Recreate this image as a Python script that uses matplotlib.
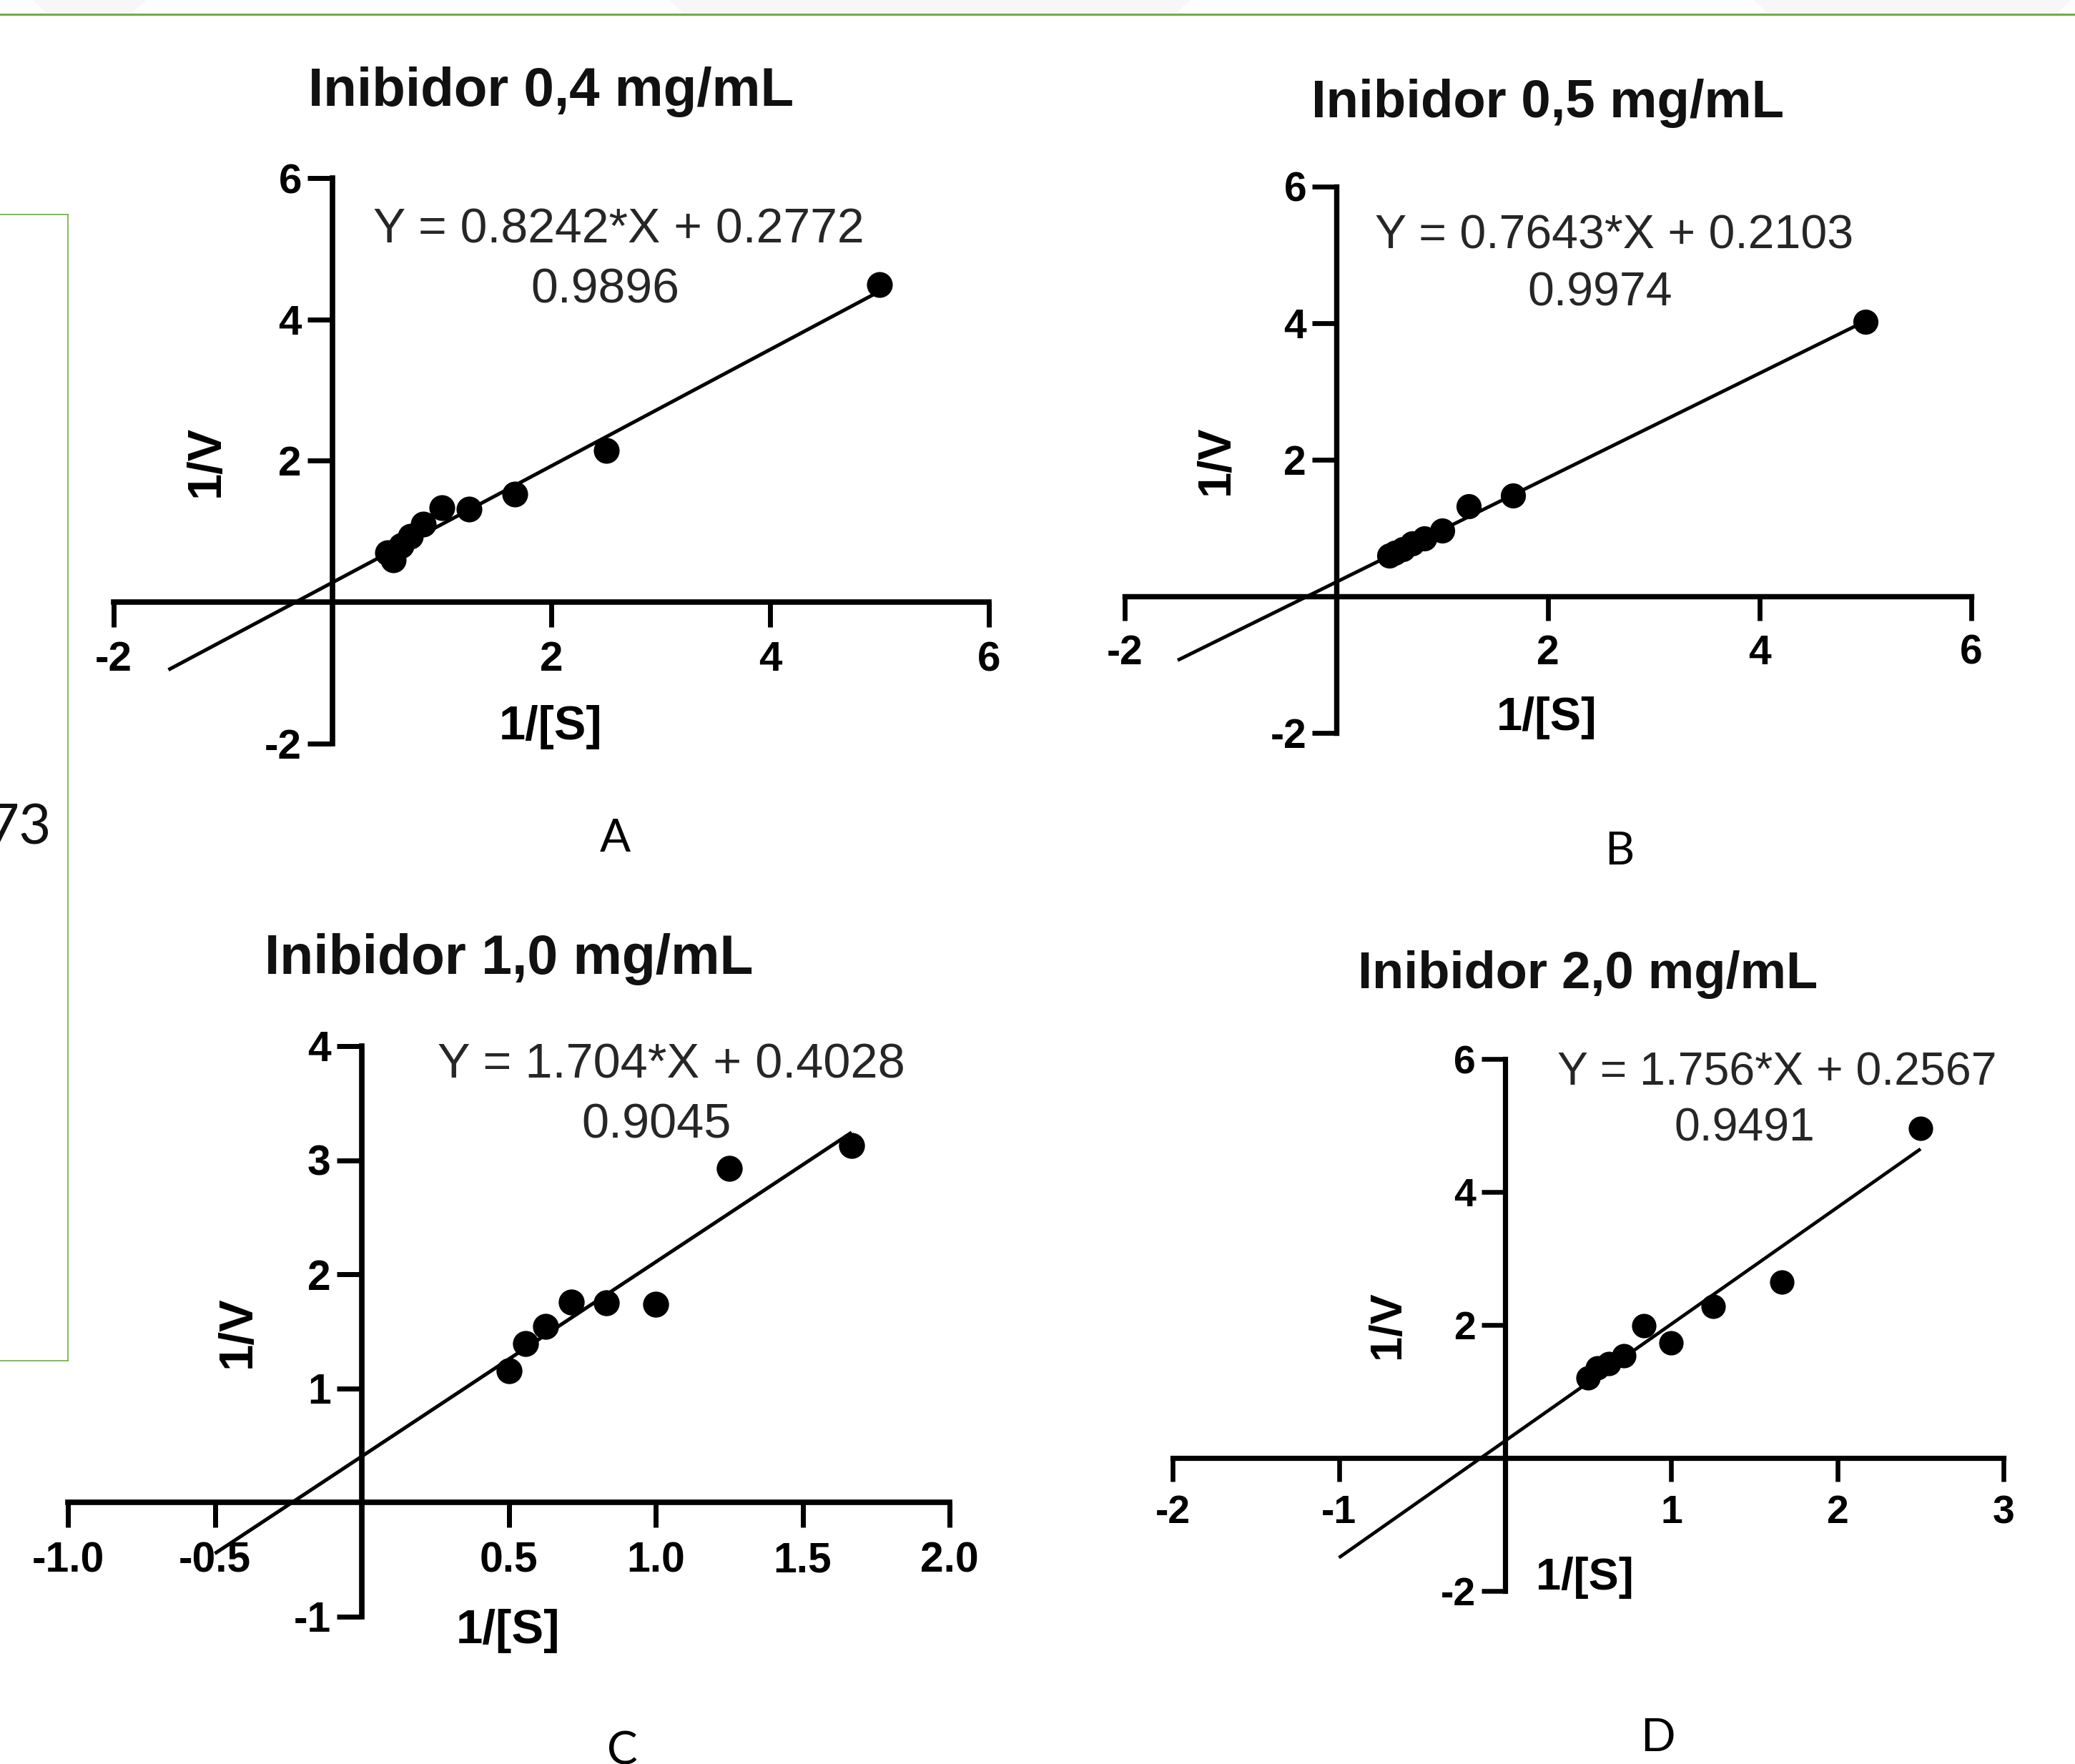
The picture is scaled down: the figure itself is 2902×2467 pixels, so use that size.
import matplotlib
matplotlib.use("Agg")
import matplotlib.pyplot as plt
from matplotlib.patches import Polygon
from matplotlib.lines import Line2D

plt.rcParams['axes.unicode_minus'] = False

W, H = 2902, 2467
DPI = 100

# ---------------- data ----------------
titles = ["Inibidor 0,4 mg/mL", "Inibidor 0,5 mg/mL", "Inibidor 1,0 mg/mL", "Inibidor 2,0 mg/mL"]
letters = ["A", "B", "C", "D"]
equations = ["Y = 0.8242*X + 0.2772", "Y = 0.7643*X + 0.2103",
             "Y = 1.704*X + 0.4028", "Y = 1.756*X + 0.2567"]
r2_labels = ["0.9896", "0.9974", "0.9045", "0.9491"]
slopes = [0.8242, 0.7643, 1.704, 1.756]
intercepts = [0.2772, 0.2103, 0.4028, 0.2567]
fit_ranges = [(-1.5, 5.0), (-1.5, 5.0), (-0.5, 1.667), (-1.0, 2.5)]

a_x = [5.0, 2.5, 1.667, 1.25, 1.0, 0.833, 0.714, 0.625, 0.556, 0.5]
a_y = [4.49, 2.15, 1.53, 1.32, 1.34, 1.10, 0.93, 0.80, 0.60, 0.70]

b_x = [5.0, 1.667, 1.25, 1.0, 0.833, 0.714, 0.625, 0.556, 0.5]
b_y = [4.02, 1.48, 1.32, 0.96, 0.85, 0.77, 0.69, 0.64, 0.60]

c_x = [1.667, 1.25, 1.0, 0.833, 0.714, 0.625, 0.556, 0.5]
c_y = [3.13, 2.93, 1.735, 1.75, 1.755, 1.545, 1.39, 1.155]

d_x = [2.5, 1.667, 1.25, 1.0, 0.833, 0.714, 0.625, 0.556, 0.5]
d_y = [4.96, 2.64, 2.28, 1.73, 1.99, 1.54, 1.42, 1.35, 1.20]

xs = [a_x, b_x, c_x, d_x]
ys = [a_y, b_y, c_y, d_y]

x_limits = [(-2, 6), (-2, 6), (-1, 2), (-2, 3)]
y_limits = [(-2, 6), (-2, 6), (-1, 4), (-2, 6)]
x_ticks = [[-2, 2, 4, 6], [-2, 2, 4, 6], [-1.0, -0.5, 0.5, 1.0, 1.5, 2.0], [-2, -1, 1, 2, 3]]
x_tick_labels = [["-2", "2", "4", "6"], ["-2", "2", "4", "6"],
                 ["-1.0", "-0.5", "0.5", "1.0", "1.5", "2.0"], ["-2", "-1", "1", "2", "3"]]
y_ticks = [[-2, 2, 4, 6], [-2, 2, 4, 6], [-1, 1, 2, 3, 4], [-2, 2, 4, 6]]
y_tick_labels = [["-2", "2", "4", "6"], ["-2", "2", "4", "6"],
                 ["-1", "1", "2", "3", "4"], ["-2", "2", "4", "6"]]

# ---------------- layout (pixels) ----------------
layout = [
    dict(x0=465, ux=153.0, y0=842, uy=98.8, s=1.0,
         title=(771, 148), eq=(865, 340), r2=(846, 423), xl=(770, 1017), yl=(289, 645), let=(860, 1191)),
    dict(x0=1869, ux=148.0, y0=834, uy=95.5, s=0.974,
         title=(2165, 164), eq=(2258, 348), r2=(2238, 428), xl=(2163, 1004), yl=(1700, 643), let=(2265, 1209)),
    dict(x0=506, ux=411.0, y0=2101, uy=159.5, s=1.007,
         title=(712, 1362), eq=(939, 1507), r2=(918, 1592), xl=(710, 2281), yl=(333, 1863), let=(870, 2468)),
    dict(x0=2105, ux=232.4, y0=2039, uy=93.0, s=0.947,
         title=(2221, 1382), eq=(2485, 1517), r2=(2440, 1596), xl=(2216, 2206), yl=(1940, 1853), let=(2318, 2449)),
]

BOLD = dict(family="Liberation Sans", weight="bold")
REG = dict(family="Liberation Sans")

fig = plt.figure(figsize=(W / DPI, H / DPI), dpi=DPI)
fig.patch.set_facecolor("white")


def fx(px):
    return px / W


def fy(py):
    return 1 - py / H


# decorative page elements from the screenshot
green = "#70AD47"
for (xa, xb) in [(45, 205), (935, 1665), (2452, 2897)]:
    fig.patches.append(Polygon([(fx(xa), fy(0)), (fx(xb), fy(0)), (fx(xb - 20), fy(18)), (fx(xa + 20), fy(18))],
                               closed=True, transform=fig.transFigure, facecolor="#f7f7f7",
                               edgecolor="none", zorder=0))
fig.lines.append(Line2D([0, 1], [fy(20), fy(20)], transform=fig.transFigure, color=green, lw=2.2))
fig.lines.append(Line2D([fx(95), fx(95)], [fy(300), fy(1903)], transform=fig.transFigure, color=green, lw=1.2))
fig.lines.append(Line2D([0, fx(95)], [fy(300), fy(300)], transform=fig.transFigure, color=green, lw=1.2))
fig.lines.append(Line2D([0, fx(95)], [fy(1903), fy(1903)], transform=fig.transFigure, color=green, lw=1.2))
fig.text(fx(72), fy(1180), "73", ha="right", va="baseline", fontsize=56, family="Lato", color="#111111")

for i in range(4):
    L = layout[i]
    s = L["s"]
    (xmin, xmax) = x_limits[i]
    (ymin, ymax) = y_limits[i]
    left = L["x0"] + xmin * L["ux"]
    right = L["x0"] + xmax * L["ux"]
    bottom = L["y0"] - ymin * L["uy"]
    top = L["y0"] - ymax * L["uy"]
    ax = fig.add_axes([fx(left), fy(bottom), (right - left) / W, (bottom - top) / H])
    ax.set_xlim(xmin, xmax)
    ax.set_ylim(ymin, ymax)
    ax.patch.set_alpha(0)
    for sp in ("top", "right"):
        ax.spines[sp].set_visible(False)
    ax.spines["left"].set_position(("data", 0))
    ax.spines["bottom"].set_position(("data", 0))
    for sp in ("left", "bottom"):
        ax.spines[sp].set_linewidth(5.5 * s)
        ax.spines[sp].set_color("black")
        ax.spines[sp].set_capstyle("projecting")
    ax.set_xticks(x_ticks[i])
    ax.set_xticklabels(x_tick_labels[i])
    ax.set_yticks(y_ticks[i])
    ax.set_yticklabels(y_tick_labels[i])
    ax.tick_params(axis="x", direction="out", length=25 * s, width=5.0 * s, pad=14 * s,
                   labelsize=42 * s, colors="black")
    ax.tick_params(axis="y", direction="out", length=25 * s, width=5.0 * s, pad=6 * s,
                   labelsize=42 * s, colors="black")
    for lab in ax.get_xticklabels() + ax.get_yticklabels():
        lab.set_fontfamily("Liberation Sans")
        lab.set_fontweight("bold")

    x0f, x1f = fit_ranges[i]
    ax.plot([x0f, x1f], [slopes[i] * x0f + intercepts[i], slopes[i] * x1f + intercepts[i]],
            color="black", lw=3.6 * s, solid_capstyle="butt", clip_on=False, zorder=3)
    ax.plot(xs[i], ys[i], "o", color="black", markersize=26 * s, markeredgewidth=0,
            clip_on=False, zorder=4)

    fig.text(fx(L["title"][0]), fy(L["title"][1]), titles[i], ha="center", va="baseline",
             fontsize=55 * s, color="#111111", **BOLD)
    fig.text(fx(L["eq"][0]), fy(L["eq"][1]), equations[i], ha="center", va="baseline",
             fontsize=49 * s, color="#262626", **REG)
    fig.text(fx(L["r2"][0]), fy(L["r2"][1]), r2_labels[i], ha="center", va="baseline",
             fontsize=49 * s, color="#262626", **REG)
    fig.text(fx(L["xl"][0]), fy(L["xl"][1]), "1/[S]", ha="center", va="center",
             fontsize=48 * s, color="black", **BOLD)
    fig.text(fx(L["yl"][0]), fy(L["yl"][1]), "1/V", ha="center", va="center", rotation=90,
             fontsize=48 * s, color="black", **BOLD)
    fig.text(fx(L["let"][0]), fy(L["let"][1]), letters[i], ha="center", va="baseline",
             fontsize=46, color="black", family="Lato")

fig.savefig("out.png", dpi=DPI, facecolor="white")
